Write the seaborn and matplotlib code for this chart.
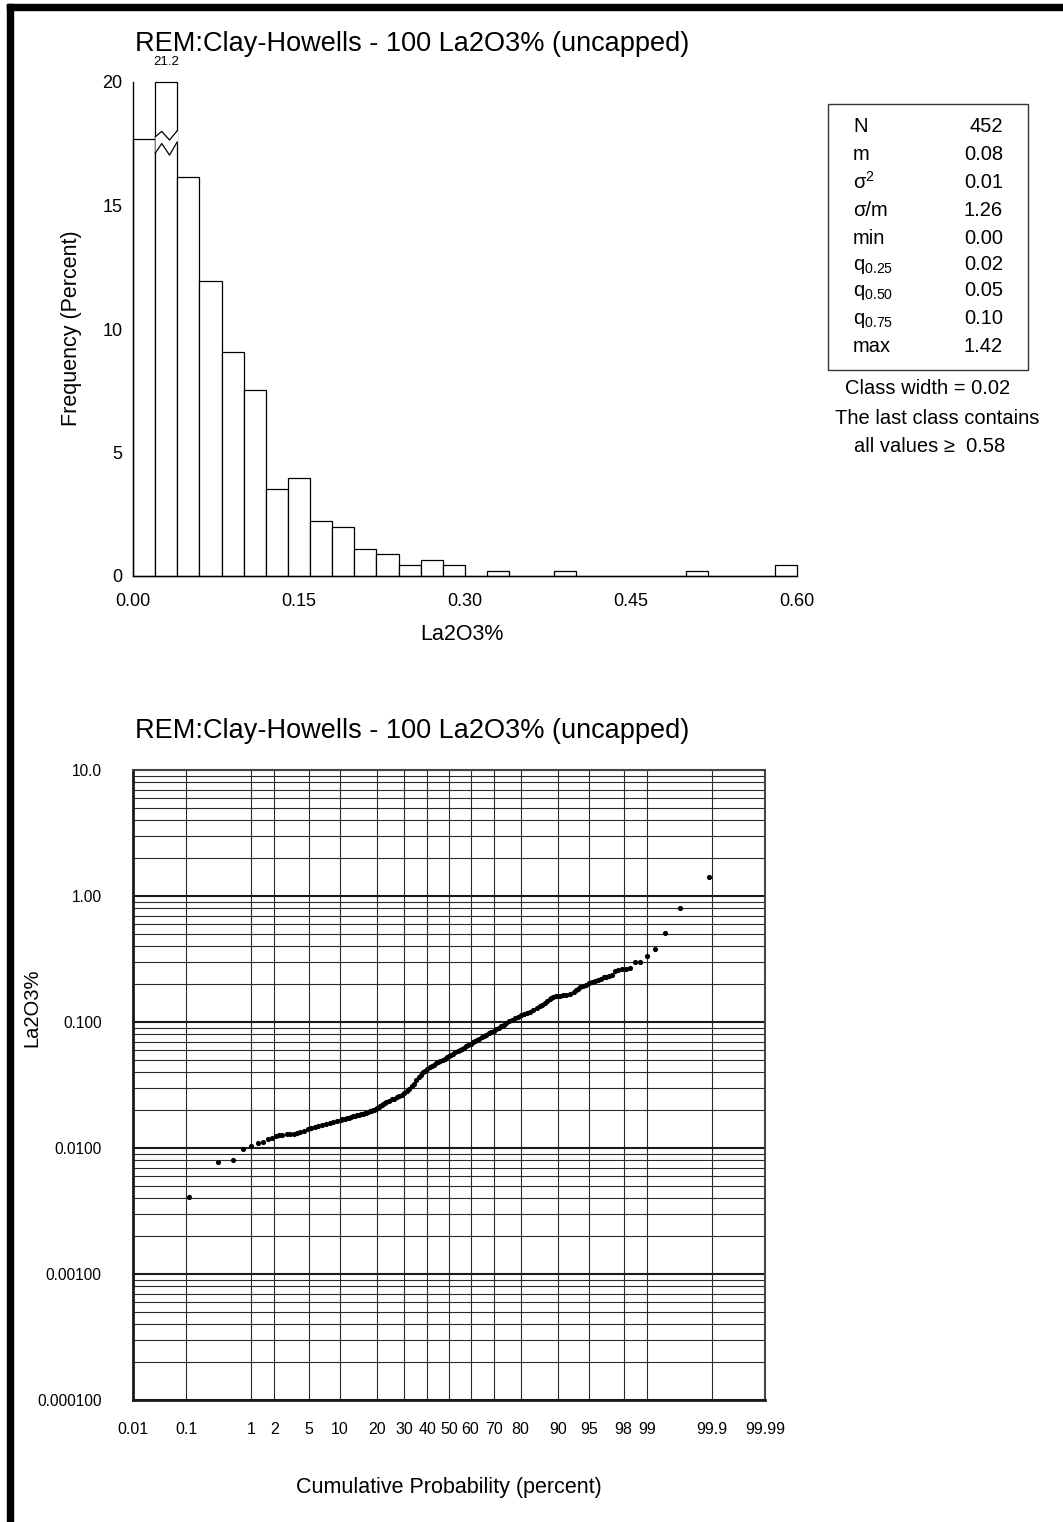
import numpy as np
import pandas as pd
import matplotlib
matplotlib.use("Agg")
import matplotlib.pyplot as plt
import seaborn as sns
from matplotlib.patches import Rectangle, Polygon
from matplotlib.ticker import NullLocator, NullFormatter, LogLocator
from statistics import NormalDist

# ---------------- data ----------------
title = "REM:Clay-Howells - 100 La2O3% (uncapped)"

class_width = 0.02
n_classes = 30
freq_pct = [17.70, 21.24, 16.15, 11.95, 9.07, 7.52, 3.54, 3.98, 2.21, 1.99,
            1.11, 0.88, 0.44, 0.66, 0.44, 0.00, 0.22, 0.00, 0.00, 0.22,
            0.00, 0.00, 0.00, 0.00, 0.00, 0.22, 0.00, 0.00, 0.00, 0.44]
hist_cap = 20
hist_xticks = [0.0, 0.15, 0.30, 0.45, 0.60]
hist_xticklabels = ["0.00", "0.15", "0.30", "0.45", "0.60"]
hist_yticks = [0, 5, 10, 15, 20]
broken_label = "21.2"

stat_names = ["N", "m", "σ$^2$", "σ/m", "min", "q$_{0.25}$", "q$_{0.50}$", "q$_{0.75}$", "max"]
stat_values = ["452", "0.08", "0.01", "1.26", "0.00", "0.02", "0.05", "0.10", "1.42"]
notes = ["Class width = 0.02", "The last class contains", "all values \u2265  0.58"]

cum_prob_pct = [0.11, 0.33, 0.55, 0.77, 1.00, 1.22, 1.44, 1.66, 1.88,
                2.1, 2.3, 2.5, 2.8, 3.1, 3.4, 3.7, 4.0, 4.4, 4.8, 5.2, 5.7, 6.2, 6.8, 7.4, 8.0, 8.7, 9.4,
                10.1, 10.5, 11, 11.5, 12, 12.5, 13, 13.5, 14, 14.5, 15, 15.5, 16, 16.5, 17, 17.5,
                18, 18.5, 19, 19.5, 20, 20.5, 21, 21.5, 22, 22.5, 23, 24, 25, 26, 27, 28, 29, 30,
                31, 32, 33, 34, 35, 36, 37, 38, 39, 40, 41, 42, 43, 44, 45, 46, 47, 48, 49, 50,
                51, 52, 53, 54, 55, 56, 57, 58, 59, 60, 61, 62, 63, 64, 65, 66, 67, 68, 69, 70,
                71, 72, 73, 74, 75, 76, 77, 78, 79, 80, 81, 82, 83, 84, 85, 85.7, 86.4, 87, 87.6,
                88.2, 88.6, 89, 89.5, 90, 90.5, 91, 91.6, 92.2, 92.9, 93.2, 93.5, 93.9, 94.2, 94.6,
                95.0, 95.4, 95.7, 96.0, 96.35, 96.57, 96.79, 97.01, 97.23, 97.46, 97.68, 97.9,
                98.12, 98.34, 98.56, 98.78, 99.0, 99.23, 99.45, 99.67, 99.89]
la2o3_sorted = [0.0041, 0.0078, 0.0081, 0.0099, 0.0103, 0.0110, 0.0111, 0.0118, 0.0120,
                0.0124, 0.0126, 0.0127, 0.0128, 0.0128, 0.0129, 0.0131, 0.0133, 0.0137, 0.0142,
                0.0145, 0.0147, 0.0149, 0.0152, 0.0155, 0.0158, 0.0161, 0.0164,
                0.0167, 0.0169, 0.0171, 0.0172, 0.0174, 0.0176, 0.0178, 0.0180, 0.0182, 0.0183,
                0.0185, 0.0187, 0.0189, 0.0191, 0.0193, 0.0195,
                0.0197, 0.0199, 0.0201, 0.0203, 0.0206, 0.0210, 0.0215, 0.0220, 0.0225, 0.0229,
                0.0232, 0.0238, 0.0243, 0.0247, 0.0252, 0.0258, 0.0264, 0.0272,
                0.0283, 0.0295, 0.0308, 0.0325, 0.0345, 0.0365, 0.0383, 0.0398, 0.0412, 0.0425,
                0.0436, 0.0447, 0.0458, 0.0469, 0.0481, 0.0492, 0.0502, 0.0513, 0.0526, 0.0537,
                0.0549, 0.0561, 0.0574, 0.0590, 0.0603, 0.0615, 0.0627, 0.0641, 0.0657, 0.0673,
                0.0690, 0.0704, 0.0720, 0.0739, 0.0757, 0.0774, 0.0793, 0.0815, 0.0835, 0.0855,
                0.0880, 0.0900, 0.0925, 0.0950, 0.0978, 0.1010, 0.1045, 0.1070, 0.1100, 0.1130,
                0.1155, 0.1180, 0.1210, 0.1250, 0.1300, 0.1340, 0.1370, 0.1410, 0.1460,
                0.1510, 0.1560, 0.1590, 0.1600, 0.1610, 0.1620, 0.1630, 0.1650, 0.1680, 0.1720,
                0.1780, 0.1840, 0.1890, 0.1930, 0.1980,
                0.2030, 0.2080, 0.2120, 0.2160, 0.2200, 0.2260, 0.2290, 0.2320, 0.2350, 0.2520,
                0.2570, 0.2620, 0.2640, 0.2660, 0.2970, 0.2980, 0.3340, 0.3830, 0.5090, 0.8100, 1.4200]

prob_ticks = [0.01, 0.1, 1, 2, 5, 10, 20, 30, 40, 50, 60, 70, 80, 90, 95, 98, 99, 99.9, 99.99]
prob_ticklabels = ["0.01", "0.1", "1", "2", "5", "10", "20", "30", "40", "50", "60", "70",
                   "80", "90", "95", "98", "99", "99.9", "99.99"]
log_yticks = [1e-4, 1e-3, 1e-2, 1e-1, 1, 10]
log_yticklabels = ["0.000100", "0.00100", "0.0100", "0.100", "1.00", "10.0"]

# ---------------- style ----------------
sns.set_theme(style="white")
plt.rcParams["font.family"] = ["Liberation Sans", "DejaVu Sans"]
plt.rcParams["mathtext.fontset"] = "custom"
plt.rcParams["mathtext.rm"] = "Liberation Sans"
plt.rcParams["mathtext.it"] = "Liberation Sans:italic"
plt.rcParams["mathtext.default"] = "regular"
plt.rcParams["text.color"] = "black"
plt.rcParams["axes.labelcolor"] = "black"
plt.rcParams["xtick.color"] = "black"
plt.rcParams["ytick.color"] = "black"

W, H, DPI = 1063, 1522, 100
fig = plt.figure(figsize=(W / DPI, H / DPI), dpi=DPI)
fig.patch.set_facecolor("white")


def fx(px):
    return px / W


def fy(py):
    return 1 - py / H


# page frame (left and top black bars)
fig.patches.append(Rectangle((fx(7), 0), 6 / W, fy(4), transform=fig.transFigure,
                             color="black", zorder=10))
fig.patches.append(Rectangle((fx(7), fy(10)), 1 - fx(7), 6 / H, transform=fig.transFigure,
                             color="black", zorder=10))

# ---------------- histogram ----------------
ax1 = fig.add_axes([fx(133), fy(576), (797 - 133) / W, (576 - 82) / H])
edges = [round(i * class_width, 4) for i in range(n_classes + 1)]
centers = [(a + b) / 2 for a, b in zip(edges[:-1], edges[1:])]
hist_df = pd.DataFrame({"value": centers,
                        "pct": np.minimum(np.array(freq_pct), hist_cap)})
sns.histplot(data=hist_df, x="value", weights="pct", bins=edges, stat="count", ax=ax1,
             color="white", edgecolor="black", linewidth=0.9, alpha=1)
for p in ax1.patches:
    p.set_clip_on(False)
ax1.set_xlim(0, 0.6)
ax1.set_ylim(0, hist_cap)
ax1.set_xticks(hist_xticks, hist_xticklabels)
ax1.set_yticks(hist_yticks, [str(v) for v in hist_yticks])
sns.despine(ax=ax1)
for s in ["left", "bottom"]:
    ax1.spines[s].set_color("black")
    ax1.spines[s].set_linewidth(1.0)
ax1.tick_params(axis="both", direction="out", length=6, width=1, labelsize=13)
ax1.tick_params(axis="x", pad=6)
ax1.tick_params(axis="y", pad=1.5)
ax1.set_xlabel("La2O3%", fontsize=15.5)
ax1.set_ylabel("Frequency (Percent)", fontsize=15.5)
ax1.xaxis.set_label_coords((462 - 133) / 664, (576 - 634) / 494)
ax1.xaxis.label.set_va("center")
ax1.yaxis.set_label_coords((72 - 133) / 664, (576 - 328) / 494)
ax1.yaxis.label.set_va("center")

# broken bar marker
zx = [0.02, 0.026, 0.033, 0.04]
zx_fill = [0.0203, 0.026, 0.033, 0.0407]
z_up = [17.78, 18.0, 17.65, 18.03]
z_lo = [17.11, 17.51, 17.04, 17.58]
poly = Polygon(list(zip(zx_fill, z_up)) + list(zip(zx_fill[::-1], z_lo[::-1])),
               closed=True, facecolor="white", edgecolor="none", zorder=5, clip_on=False)
ax1.add_patch(poly)
ax1.plot(zx, z_up, color="black", lw=0.9, zorder=6, clip_on=False)
ax1.plot(zx, z_lo, color="black", lw=0.9, zorder=6, clip_on=False)
ax1.text(centers[1], 20.8, broken_label, ha="center", va="center", fontsize=9.5, clip_on=False)

# stats box
fig.patches.append(Rectangle((fx(828), fy(370)), 200 / W, 266 / H, transform=fig.transFigure,
                             fill=False, edgecolor="#333333", linewidth=1.0))
row_centres = [124, 153, 181, 208, 237, 263, 289, 316, 344]
for name, val, yc in zip(stat_names, stat_values, row_centres):
    fig.text(fx(853), fy(yc + 7.5), name, ha="left", va="baseline", fontsize=14.5)
    fig.text(fx(1003), fy(yc + 7.5), val, ha="right", va="baseline", fontsize=14.5)
for txt, xc, yc in zip(notes, [928, 937, 930], [389, 418, 446]):
    fig.text(fx(xc), fy(yc), txt, ha="center", va="center", fontsize=14.5)

fig.text(fx(135), fy(44), title, ha="left", va="center", fontsize=19.5)
fig.text(fx(135), fy(731), title, ha="left", va="center", fontsize=19.5)

# ---------------- probability plot ----------------
_nd = NormalDist()


def _fwd(p):
    a = np.asarray(p, dtype=float)
    flat = np.clip(a.ravel() / 100.0, 1e-12, 1 - 1e-12)
    res = np.array([_nd.inv_cdf(v) if np.isfinite(v) else np.nan for v in flat], dtype=float)
    return res.reshape(a.shape)


def _inv(z):
    a = np.asarray(z, dtype=float)
    flat = a.ravel()
    res = np.array([_nd.cdf(v) * 100.0 if np.isfinite(v) else np.nan for v in flat], dtype=float)
    return res.reshape(a.shape)


ax2 = fig.add_axes([fx(133), fy(1400), (765 - 133) / W, (1400 - 770) / H])
ax2.set_yscale("log")
ax2.set_xscale("function", functions=(_fwd, _inv))
ax2.set_xlim(0.01, 99.99)
ax2.set_ylim(1e-4, 10)
ax2.set_xticks(prob_ticks, prob_ticklabels)
ax2.xaxis.set_minor_locator(NullLocator())
ax2.set_yticks(log_yticks, log_yticklabels)
ax2.yaxis.set_minor_locator(LogLocator(base=10, subs=np.arange(2, 10)))
ax2.yaxis.set_minor_formatter(NullFormatter())
ax2.set_axisbelow(True)
ax2.yaxis.grid(True, which="major", color="#1a1a1a", linewidth=1.5)
ax2.yaxis.grid(True, which="minor", color="#2a2a2a", linewidth=0.8)
ax2.xaxis.grid(True, which="major", color="#2a2a2a", linewidth=0.8)

sns.scatterplot(x=cum_prob_pct, y=la2o3_sorted, ax=ax2, color="black", s=14,
                linewidth=0, zorder=3)

for s in ["left", "bottom"]:
    ax2.spines[s].set_color("#1a1a1a")
    ax2.spines[s].set_linewidth(2.0)
for s in ["top", "right"]:
    ax2.spines[s].set_color("#444444")
    ax2.spines[s].set_linewidth(1.5)
ax2.tick_params(axis="y", which="major", direction="out", length=5, width=1, labelsize=11.2, pad=17.5)
ax2.tick_params(axis="y", which="minor", length=0)
ax2.tick_params(axis="x", which="major", direction="out", length=5, width=1, labelsize=11.5, pad=11)
ax2.set_xlabel("Cumulative Probability (percent)", fontsize=15.5)
ax2.set_ylabel("La2O3%", fontsize=14.5)
ax2.xaxis.set_label_coords(0.5, (1400 - 1487) / 630)
ax2.xaxis.label.set_va("center")
ax2.yaxis.set_label_coords((32 - 133) / 632, (1400 - 1008) / 630)
ax2.yaxis.label.set_va("center")

fig.savefig("out.png", dpi=DPI, facecolor="white")
